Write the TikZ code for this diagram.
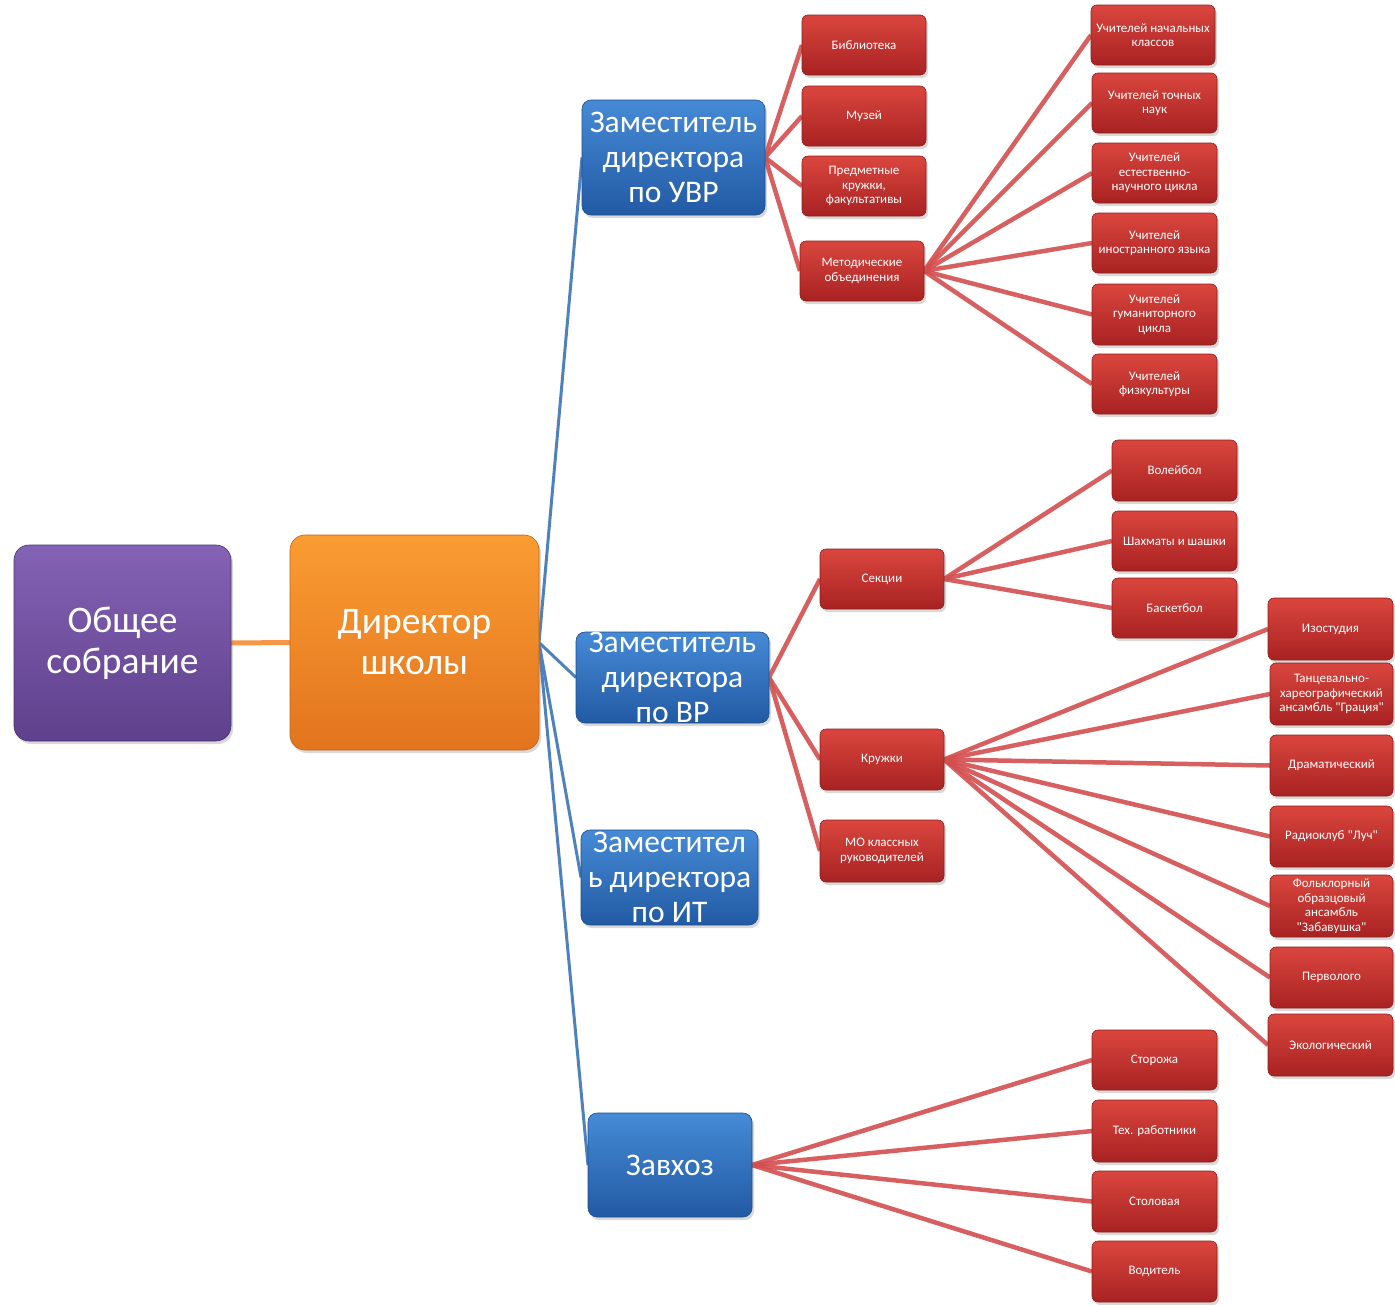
\documentclass[tikz,border=0pt]{standalone}
\usepackage{fontspec}
\setmainfont{Carlito}[Ligatures=TeXOff]
\usetikzlibrary{shadows,backgrounds}
\definecolor{redtop}{RGB}{218,70,62}
\definecolor{redbot}{RGB}{168,34,34}
\definecolor{rededge}{RGB}{140,28,28}
\definecolor{bluetop}{RGB}{70,138,214}
\definecolor{bluebot}{RGB}{34,90,164}
\definecolor{blueedge}{RGB}{30,76,140}
\definecolor{purtop}{RGB}{132,98,180}
\definecolor{purbot}{RGB}{94,64,140}
\definecolor{oratop}{RGB}{250,156,50}
\definecolor{orabot}{RGB}{226,116,30}
\definecolor{redline}{RGB}{212,78,78}
\definecolor{blueline}{RGB}{79,129,189}
\definecolor{oraline}{RGB}{247,150,70}
\tikzset{
  boxbase/.style={rectangle, inner sep=0pt, outer sep=0pt,
    drop shadow={shadow xshift=2pt, shadow yshift=-3pt, opacity=0.3}},
  redb/.style={boxbase, rounded corners=6pt, top color=redtop, bottom color=redbot, draw=rededge, line width=0.6pt},
  redblbl/.style={text=white, align=center, font=\fontsize{13}{14.5}\selectfont},
  blueb/.style={boxbase, rounded corners=9pt, top color=bluetop, bottom color=bluebot, draw=blueedge, line width=0.6pt},
  blueblbl/.style={text=white, align=center, font=\fontsize{31.5}{35}\selectfont},
  purb/.style={boxbase, rounded corners=15pt, top color=purtop, bottom color=purbot, draw=purbot!80!black, line width=0.6pt},
  purblbl/.style={text=white, align=center, font=\fontsize{37.5}{41}\selectfont},
  orab/.style={boxbase, rounded corners=15pt, top color=oratop, bottom color=orabot, draw=orabot!85!black, line width=0.6pt},
  orablbl/.style={text=white, align=center, font=\fontsize{37.5}{41}\selectfont},
  redcon/.style={draw=redline, line width=4.5pt, opacity=0.9},
  bluecon/.style={draw=blueline, line width=3pt},
  oracon/.style={draw=oraline, line width=5pt},
}
\newcommand\bx[7]{\node[#2, minimum width={(#5-#3)*1pt}, minimum height={(#6-#4)*1pt},
  label={[#2lbl]center:{#7}}] (#1) at ({(#3+#5)/2},{(#4+#6)/2}) {};}
\begin{document}
\begin{tikzpicture}[x=1pt,y=-1pt]
\useasboundingbox (0,0) rectangle (1395,1304);
\bx{gen}{purb}{14}{545}{231}{741}{Общее\\собрание}
\bx{dir}{orab}{290}{535}{539}{750}{Директор\\школы}
\bx{uvr}{blueb}{582}{100}{765}{215}{Заместитель\\директора\\по УВР}
\bx{vr}{blueb}{576}{632}{769}{723}{Заместитель\\директора\\по ВР}
\bx{it}{blueb}{581}{830}{758}{925}{Заместител\\ь директора\\по ИТ}
\bx{zav}{blueb}{588}{1113}{752}{1217}{Завхоз}
\bx{bib}{redb}{802}{15}{926}{75}{Библиотека}
\bx{muz}{redb}{802}{86}{926}{146}{Музей}
\bx{pk}{redb}{802}{156}{926}{216}{Предметные\\кружки,\\факультативы}
\bx{mo}{redb}{800}{241}{924}{301}{Методические\\объединения}
\bx{u1}{redb}{1091}{5}{1215}{65}{Учителей начальных\\классов}
\bx{u2}{redb}{1092}{73}{1217}{133}{Учителей точных\\наук}
\bx{u3}{redb}{1092}{143}{1217}{203}{Учителей\\естественно-\\научного цикла}
\bx{u4}{redb}{1092}{213}{1217}{273}{Учителей\\иностранного языка}
\bx{u5}{redb}{1092}{284}{1217}{345}{Учителей\\гуманиторного\\цикла}
\bx{u6}{redb}{1092}{354}{1217}{414}{Учителей\\физкультуры}
\bx{sek}{redb}{820}{549}{944}{609}{Секции}
\bx{kr}{redb}{820}{729}{944}{790}{Кружки}
\bx{mok}{redb}{820}{820}{944}{882}{МО классных\\руководителей}
\bx{s1}{redb}{1112}{440}{1237}{501}{Волейбол}
\bx{s2}{redb}{1112}{511}{1237}{571}{Шахматы и шашки}
\bx{s3}{redb}{1112}{578}{1237}{638}{Баскетбол}
\bx{k1}{redb}{1268}{598}{1393}{660}{Изостудия}
\bx{k2}{redb}{1270}{663}{1393}{725}{Танцевально-\\хареографический\\ансамбль "Грация"}
\bx{k3}{redb}{1270}{735}{1393}{796}{Драматический}
\bx{k4}{redb}{1270}{806}{1393}{867}{Радиоклуб "Луч"}
\bx{k5}{redb}{1270}{875}{1393}{937}{Фольклорный\\образцовый\\ансамбль\\"Забавушка"}
\bx{k6}{redb}{1270}{947}{1393}{1008}{Перволого}
\bx{k7}{redb}{1268}{1014}{1393}{1076}{Экологический}
\bx{z1}{redb}{1092}{1030}{1217}{1090}{Сторожа}
\bx{z2}{redb}{1092}{1100}{1217}{1162}{Тех. работники}
\bx{z3}{redb}{1092}{1171}{1217}{1232}{Столовая}
\bx{z4}{redb}{1092}{1241}{1217}{1302}{Водитель}
\begin{scope}[on background layer]
\draw[oracon] (gen.east) -- (dir.west);
\foreach \c in {uvr,vr,it,zav} \draw[bluecon] (dir.east) -- (\c.west);
\foreach \c in {bib,muz,pk,mo} \draw[redcon] (uvr.east) -- (\c.west);
\foreach \c in {u1,u2,u3,u4,u5,u6} \draw[redcon] (mo.east) -- (\c.west);
\foreach \c in {sek,kr,mok} \draw[redcon] (vr.east) -- (\c.west);
\foreach \c in {s1,s2,s3} \draw[redcon] (sek.east) -- (\c.west);
\foreach \c in {k1,k2,k3,k4,k5,k6,k7} \draw[redcon] (kr.east) -- (\c.west);
\foreach \c in {z1,z2,z3,z4} \draw[redcon] (zav.east) -- (\c.west);
\end{scope}
\end{tikzpicture}
\end{document}
